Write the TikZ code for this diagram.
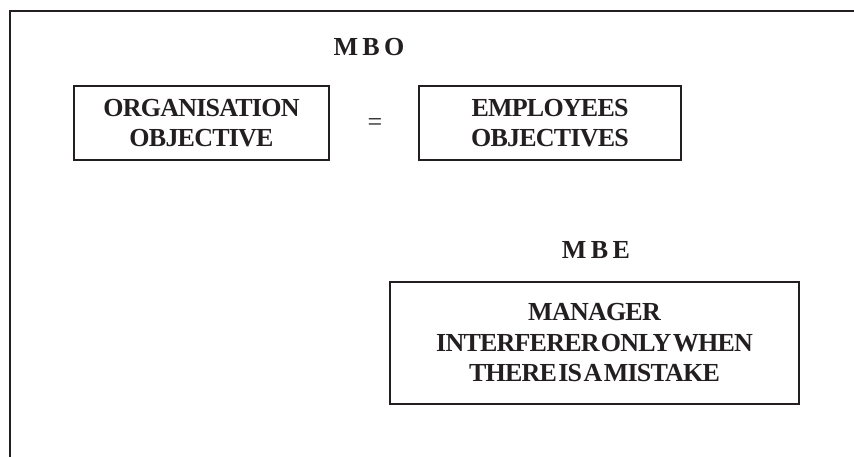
\documentclass[tikz,border=0pt]{standalone}
\usepackage{fontspec}
\setmainfont{Liberation Serif}
\newfontfamily\tightbold[LetterSpace=-3,WordSpace=0.25]{Liberation Serif Bold}
\newfontfamily\widebold[LetterSpace=17]{Liberation Serif Bold}
\definecolor{ink}{HTML}{231F20}
\begin{document}
\begin{tikzpicture}[x=1pt,y=1pt,
  frameline/.style={draw=ink,line width=1.8pt},
  box/.style={draw=ink,line width=1.8pt,inner sep=0pt,align=center,
    text=ink,font=\tightbold\fontsize{26}{30.5}\selectfont},
  heading/.style={text=ink,inner sep=0pt,font=\widebold\fontsize{26}{30}\selectfont},
  eqsign/.style={text=ink,inner sep=0pt,font=\fontsize{26}{30}\selectfont}]
\useasboundingbox (0,0) rectangle (854,-457);
% frame
\coordinate (fb) at (10,-458);
\coordinate (fc) at (10,-11);
\coordinate (fr) at (855,-11);
\draw[frameline] (fb) -- (fc) -- (fr);
% MBO
\node[heading] (mbo) at (369,-47) {MBO};
\node[box,minimum width=255,minimum height=74] (org) at (201.5,-123)
  {ORGANISATION\\OBJECTIVE};
\node[eqsign] (eq) at (375,-125) {=};
\node[box,minimum width=262,minimum height=74] (emp) at (550,-123)
  {EMPLOYEES\\OBJECTIVES};
% MBE
\node[heading] (mbe) at (596,-250) {MBE};
\node[box,minimum width=409,minimum height=122] (mbebox) at (594.5,-343)
  {MANAGER\\INTERFERER ONLY WHEN\\THERE IS A MISTAKE};
\end{tikzpicture}
\end{document}
